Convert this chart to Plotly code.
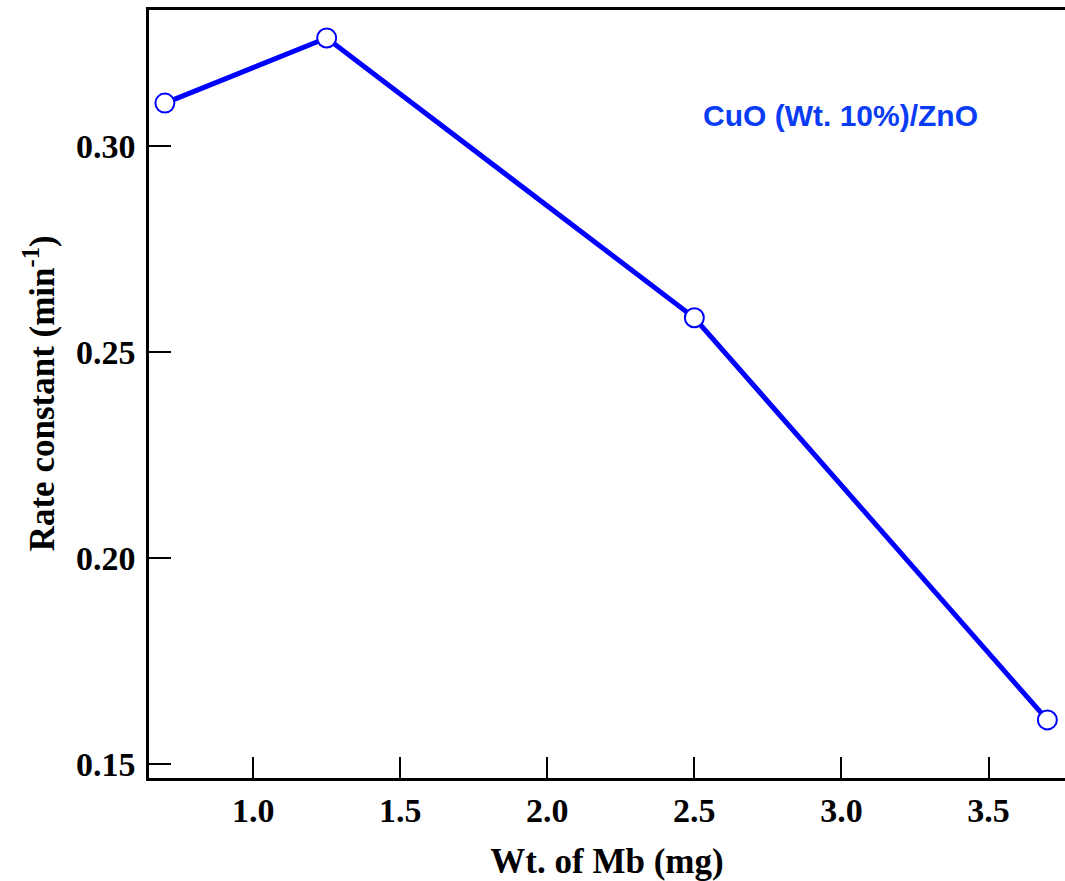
import plotly.graph_objects as go

wt_mb = [0.7, 1.25, 2.5, 3.7]
rate_constant = [0.3104, 0.3262, 0.2583, 0.1607]
x_ticks = [1.0, 1.5, 2.0, 2.5, 3.0, 3.5]
x_ticklabels = ["1.0", "1.5", "2.0", "2.5", "3.0", "3.5"]
y_ticks = [0.15, 0.20, 0.25, 0.30]
y_ticklabels = ["0.15", "0.20", "0.25", "0.30"]
series_label = "CuO (Wt. 10%)/ZnO"
x_title = "Wt. of Mb (mg)"
y_title = "Rate constant (min<sup>-1</sup>)"

serif = "Liberation Serif, Times New Roman, serif"

fig = go.Figure()
fig.add_trace(go.Scatter(
    x=wt_mb, y=rate_constant, mode="lines+markers",
    line=dict(color="#0000ff", width=5),
    marker=dict(symbol="circle", size=19, color="white",
                line=dict(color="#0000ff", width=2)),
    showlegend=False, cliponaxis=False,
))

fig.add_annotation(
    x=0.603, y=0.862, xref="paper", yref="paper",
    text=f"<b>{series_label}</b>", showarrow=False,
    font=dict(family="Liberation Sans, Arial, sans-serif", size=30, color="#0a3cf5"),
    xanchor="left", yanchor="middle",
)

fig.add_annotation(
    x=-0.120, y=0.501, xref="paper", yref="paper",
    text=f"<b>{y_title}</b>", showarrow=False, textangle=-90,
    font=dict(family=serif, size=35, color="black"),
    xanchor="center", yanchor="middle",
)

fig.update_layout(
    width=1065, height=881,
    margin=dict(l=149, r=0, t=10, b=103),
    paper_bgcolor="white", plot_bgcolor="white",
    xaxis=dict(
        range=[0.646, 3.76], tickvals=x_ticks, ticktext=x_ticklabels,
        ticks="inside", ticklen=21, tickwidth=2, tickcolor="black",
        showline=True, linecolor="black", linewidth=2.5, mirror=True,
        showgrid=False, zeroline=False,
        tickfont=dict(family=serif, size=34, color="black", weight="bold"),
        title=dict(text=f"<b>{x_title}</b>", standoff=21,
                   font=dict(family=serif, size=35, color="black")),
    ),
    yaxis=dict(
        range=[0.1466, 0.333], tickvals=y_ticks, ticktext=y_ticklabels,
        ticks="inside", ticklen=22, tickwidth=2, tickcolor="black",
        showline=True, linecolor="black", linewidth=2.5, mirror=False,
        showgrid=False, zeroline=False, ticklabelstandoff=4,
        tickfont=dict(family=serif, size=34, color="black", weight="bold"),
    ),
)

fig.write_html("out.html")
